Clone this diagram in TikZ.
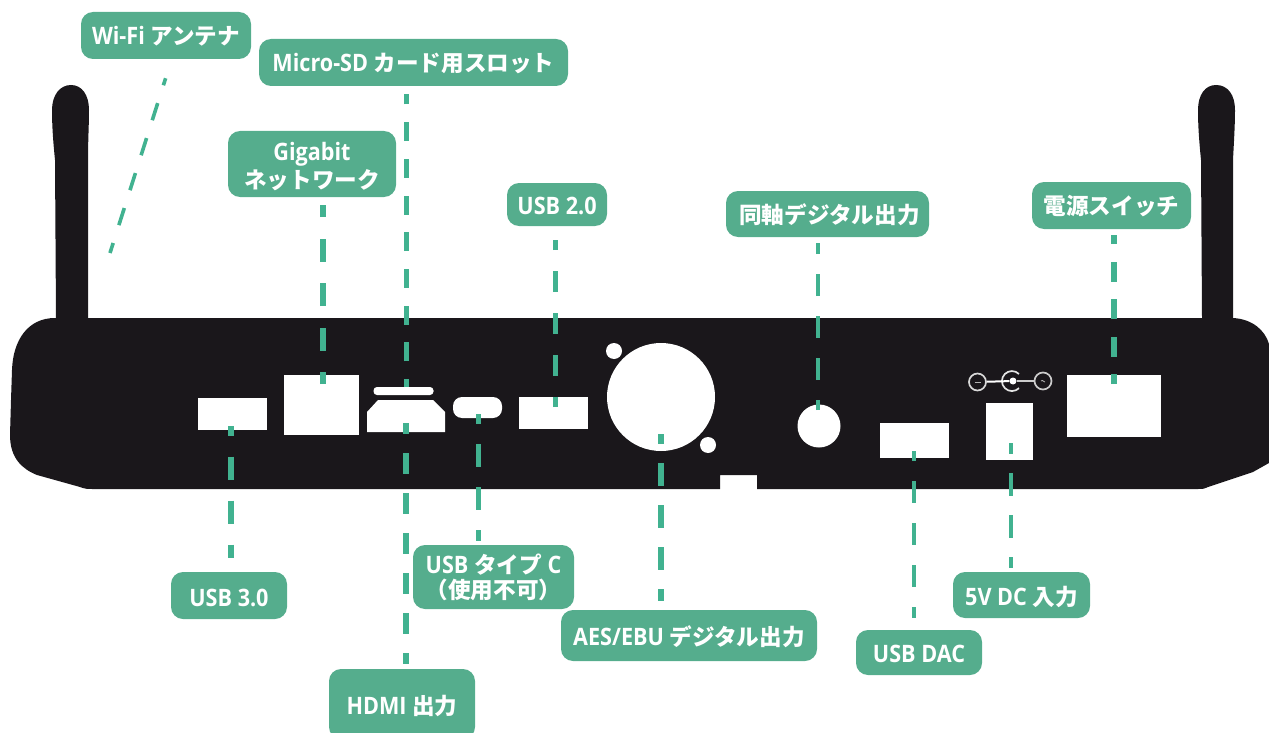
\documentclass[tikz,border=0pt]{standalone}
\usepackage{fontspec}
\setmainfont{Open Sans}[FakeStretch=0.9]
\newfontfamily\jpf{Noto Sans CJK JP}
\newcommand{\jp}[1]{{\jpf\bfseries\fontsize{22.6}{25}\selectfont #1}}
\newcommand{\dn}[2]{\raisebox{-#1pt}[\height][\depth]{#2}}
\definecolor{lblgreen}{HTML}{55AD8D}
\definecolor{leadgreen}{HTML}{41B290}
\definecolor{bodyblack}{HTML}{1A171B}
\tikzset{
  lbl/.style={fill=lblgreen,text=white,rounded corners=12pt,inner sep=0pt,align=center,
    font=\fontsize{24}{25}\selectfont\bfseries},
  portbox/.style={fill=white,inner sep=0pt},
  lead/.style n args={3}{draw=leadgreen,line width=#1,dash pattern=on #2 off #3},
}
\begin{document}
\begin{tikzpicture}[x=1pt,y=-1pt]
\useasboundingbox (0,0) rectangle (1269,733);
% body with antennas
\fill[bodyblack] (55,318) -- (56,318) -- (55,160) .. controls (53,140) and (52,125) .. (52,110)
  .. controls (52,95) and (60,85) .. (71,85) .. controls (82,85) and (89,95) .. (89,110)
  .. controls (89,125) and (88,140) .. (88,160) -- (88,318)
  -- (1202,318) -- (1201,160) .. controls (1199,140) and (1198,125) .. (1198,110)
  .. controls (1198,95) and (1205,85) .. (1216,85) .. controls (1228,85) and (1235,95) .. (1235,110)
  .. controls (1235,125) and (1234,140) .. (1233,160) -- (1233,318)
  .. controls (1252,319) and (1265,330) .. (1269,344)
  -- (1269,463) -- (1253,472) -- (1208,487) .. controls (1204,489) and (1202,489) .. (1198,489)
  -- (757,489) -- (757,475) -- (720,475) -- (720,489)
  -- (92,489) .. controls (88,489) and (85,489) .. (80,487) -- (37,475)
  .. controls (22,469) and (10,458) .. (10,435) -- (11,400) -- (12,370)
  .. controls (13,340) and (28,318) .. (55,318) -- cycle;
% ports
\node[portbox,minimum width=69pt,minimum height=32pt] (usb3) at (232.5,413.5) {};
\node[portbox,minimum width=75pt,minimum height=60pt] (rj) at (321.5,405) {};
\node[portbox,rounded corners=3.5pt,minimum width=60pt,minimum height=8pt] (sd) at (403.5,391) {};
\fill[white] (378,400) -- (433,400) -- (445,412) -- (445,432) -- (367,432) -- (367,412) -- cycle;
\node[portbox,rounded corners=9pt,minimum width=49pt,minimum height=21pt] (usbc) at (477.5,407.5) {};
\node[portbox,minimum width=69pt,minimum height=32pt] (usb2) at (553.5,413) {};
\node[portbox,circle,minimum size=108pt] (xlr) at (661,397) {};
\node[portbox,circle,minimum size=16pt] (xlra) at (614,351) {};
\node[portbox,circle,minimum size=16pt] (xlrb) at (708,445) {};
\node[portbox,circle,minimum size=43pt] (coax) at (819,426) {};
\node[portbox,minimum width=69pt,minimum height=35pt] (dac) at (914.5,440.5) {};
\node[portbox,minimum width=47pt,minimum height=57pt] (dcin) at (1009.5,431.5) {};
\node[portbox,minimum width=94pt,minimum height=62pt] (pwr) at (1114,406) {};
% DC polarity symbol
\node[circle,draw=white!85!black,line width=1.7pt,minimum size=17pt,inner sep=0pt] (dcm) at (977.5,382) {};
\node[circle,draw=white!80!black,line width=1.7pt,minimum size=17pt,inner sep=0pt] (dcp) at (1043,381) {};
\node[circle,fill=white,minimum size=7pt,inner sep=0pt] (dcd) at (1013,381) {};
\draw[white!90!black,line width=1.7pt] (1019,374) arc (45:315:10pt);
\draw[white,line width=2pt] (dcm) -- (dcd);
\draw[white!80!black,line width=1.4pt] (dcd) -- (dcp);
\draw[white!70!black,line width=.8pt] (974.5,382) -- (980.5,382);
\draw[white!70!black,line width=.8pt] (1041,381) .. controls (1043,379) and (1044,383) .. (1045,382);
% labels
\node[lbl,minimum width=170pt,minimum height=47pt] (lwifi) at (166,35.5) {\dn{1}{Wi-Fi \jp{アンテナ}}};
\node[lbl,minimum width=309pt,minimum height=47pt] (lsd) at (413.5,62.5) {\dn{1}{Micro-SD \jp{カード用スロット}}};
\node[lbl,minimum width=168pt,minimum height=66pt] (lgig) at (312,164) {\dn{2.5}{\shortstack{Gigabit\\\jp{ネットワーク}}}};
\node[lbl,minimum width=100pt,minimum height=43pt] (lusb2) at (557,204.5) {\dn{1.5}{USB 2.0}};
\node[lbl,minimum width=203pt,minimum height=46pt] (lcoax) at (827.5,214) {\dn{1}{\kern4pt\jp{同軸デジタル出力}}};
\node[lbl,minimum width=159pt,minimum height=47pt] (lpwr) at (1111.5,205.5) {\dn{1}{\jp{電源スイッチ}}};
\node[lbl,minimum width=116pt,minimum height=47pt] (lusb3) at (229,595.5) {\dn{2.5}{USB 3.0}};
\node[lbl,minimum width=161pt,minimum height=64pt] (lusbc) at (493.5,577) {USB \jp{タイプ} C\\\jp{（使用不可）}};
\node[lbl,minimum width=146pt,minimum height=70pt] (lhdmi) at (402,704) {\dn{2}{HDMI \jp{出力}}};
\node[lbl,minimum width=256pt,minimum height=51pt] (laes) at (689,635.5) {\dn{1}{AES/EBU \jp{デジタル出力}}};
\node[lbl,minimum width=126pt,minimum height=45pt] (ldac) at (919,652.5) {\dn{1}{USB DAC}};
\node[lbl,minimum width=137pt,minimum height=46pt] (ldc) at (1021.5,595) {\dn{2}{5V DC \jp{入力}}};
% leads
\coordinate (cusb3) at (231,426);
\coordinate (cgig) at (323,384);
\coordinate (csd) at (406,387);
\coordinate (chdmi) at (406,423);
\coordinate (cusbc) at (478,414);
\coordinate (cusb2) at (555,407);
\coordinate (caes) at (661,434);
\coordinate (ccoax) at (818,410);
\coordinate (cdac) at (913.5,451);
\coordinate (cdc) at (1011,443);
\coordinate (cpwr) at (1114,384);
\coordinate (cwifi) at (110,253);
\draw[lead={3.6pt}{18pt}{18.7pt},dash phase=7.5pt,shorten >=20pt] (cwifi) -- ([xshift=5.7pt]lwifi.south);
\draw[lead={5.5pt}{23.5pt}{20.5pt},dash phase=13.5pt,shorten >=14pt] (cusb3) -- (cusb3 |- lusb3.north);
\draw[lead={5.5pt}{23pt}{21.5pt},dash phase=11pt,shorten >=8pt] (cgig) -- (cgig |- lgig.south);
\draw[lead={5pt}{19pt}{17.7pt},dash phase=11pt,shorten >=8pt] (csd) -- (csd |- lsd.south);
\draw[lead={5.5pt}{21pt}{19pt},dash phase=10pt,shorten >=5pt] (chdmi) -- (chdmi |- lhdmi.north);
\draw[lead={5pt}{23pt}{20pt},dash phase=13pt,shorten >=4pt] (cusbc) -- (cusbc |- lusbc.north);
\draw[lead={5pt}{21pt}{21pt},dash phase=11pt,shorten >=14pt] (cusb2) -- (cusb2 |- lusb2.south);
\draw[lead={5.5pt}{23pt}{19pt},dash phase=13pt,shorten >=9pt] (caes) -- (caes |- laes.north);
\draw[lead={4pt}{22pt}{20pt},dash phase=12pt,shorten >=6pt] (ccoax) -- (ccoax |- lcoax.south);
\draw[lead={4pt}{22pt}{20pt},dash phase=12pt,shorten >=12pt] (cdac) -- (cdac |- ldac.north);
\draw[lead={4pt}{23pt}{19pt},dash phase=12pt,shorten >=4pt] (cdc) -- (cdc |- ldc.north);
\draw[lead={6pt}{20pt}{17.5pt},dash phase=10pt,shorten >=6pt] (cpwr) -- (cpwr |- lpwr.south);
\end{tikzpicture}
\end{document}
